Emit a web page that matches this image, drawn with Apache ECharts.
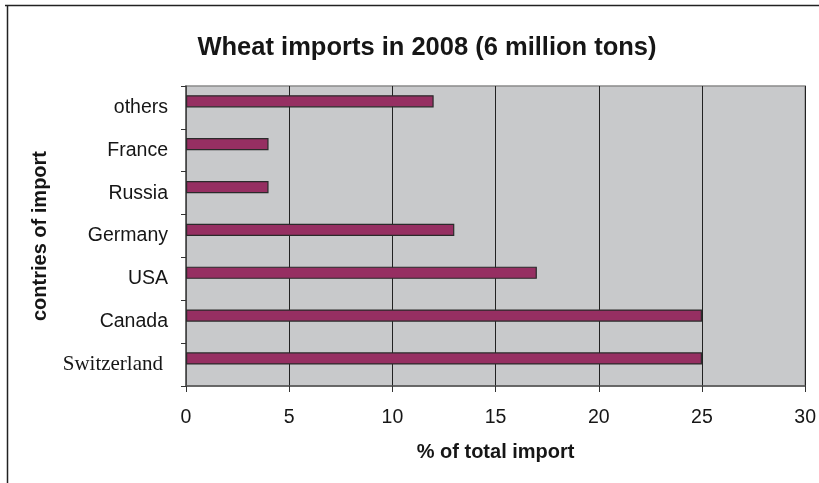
<!DOCTYPE html>
<html><head><meta charset="utf-8">
<script src="https://cdn.jsdelivr.net/npm/echarts@6/dist/echarts.min.js"></script>
<style>html,body{margin:0;padding:0;background:#fff}#c{width:819px;height:483px}</style>
</head><body><div id="c"></div>
<script>
const categories = ['Switzerland', 'Canada', 'USA', 'Germany', 'Russia', 'France', 'others'];
const shares = [25, 25, 17, 13, 4, 4, 12];
const xTicks = [0, 5, 10, 15, 20, 25, 30];

const chart = echarts.init(document.getElementById('c'));
chart.setOption({
  animation: false,
  title: {
    text: 'Wheat imports in 2008 (6 million tons)',
    left: 422, top: 30, textAlign: 'center',
    textStyle: {fontFamily: 'Liberation Sans, Arial', fontWeight: 'bold', fontSize: 25.5, color: '#161616'}
  },
  graphic: [
    {type: 'line', shape: {x1: 5, y1: 5.5, x2: 819, y2: 5.5}, style: {stroke: '#222', lineWidth: 1.5}},
    {type: 'line', shape: {x1: 7.5, y1: 5, x2: 7.5, y2: 483}, style: {stroke: '#222', lineWidth: 1.5}}
  ],
  grid: {left: 186, top: 86, right: 13, bottom: 97, show: true, backgroundColor: '#c8c9cb', borderColor: '#8a8a8a', borderWidth: 1.5},
  xAxis: {
    type: 'value', min: 0, max: 30, interval: 5,
    name: '% of total import', nameLocation: 'middle', nameGap: 56,
    nameTextStyle: {fontFamily: 'Liberation Sans, Arial', fontWeight: 'bold', fontSize: 20, color: '#161616'},
    axisLine: {show: true, lineStyle: {color: '#555', width: 1.5}},
    axisTick: {show: true, length: 6, lineStyle: {color: '#333'}},
    axisLabel: {fontFamily: 'Liberation Sans, Arial', fontSize: 19.5, color: '#161616', margin: 22,
      formatter: v => xTicks.includes(v) ? String(v) : ''},
    splitLine: {show: true, lineStyle: {color: '#222', width: 1}}
  },
  yAxis: {
    type: 'category', data: categories,
    name: 'contries of import', nameLocation: 'middle', nameGap: 136, nameRotate: 90,
    nameTextStyle: {fontFamily: 'Liberation Sans, Arial', fontWeight: 'bold', fontSize: 20, color: '#161616'},
    axisLine: {show: true, lineStyle: {color: '#555', width: 1.5}},
    axisTick: {show: true, length: 5, lineStyle: {color: '#333'}},
    axisLabel: {fontFamily: 'Liberation Sans, Arial', fontSize: 19.5, color: '#161616', margin: 18,
      formatter: v => v === 'Switzerland' ? '{s|' + v + '}' : v,
      rich: {s: {fontFamily: 'Liberation Serif, DejaVu Serif, serif', fontSize: 21, color: '#161616', padding: [0, 5, 0, 0]}}},
    splitLine: {show: false}
  },
  series: [
    {type: 'bar', data: shares, barGap: '0%', barCategoryGap: '43%',
     itemStyle: {color: '#962f62', borderColor: '#2a2a2a', borderWidth: 1.2}},
    {type: 'bar', data: shares.map(() => null), barGap: '0%', barCategoryGap: '43%'}
  ]
});
</script></body></html>
